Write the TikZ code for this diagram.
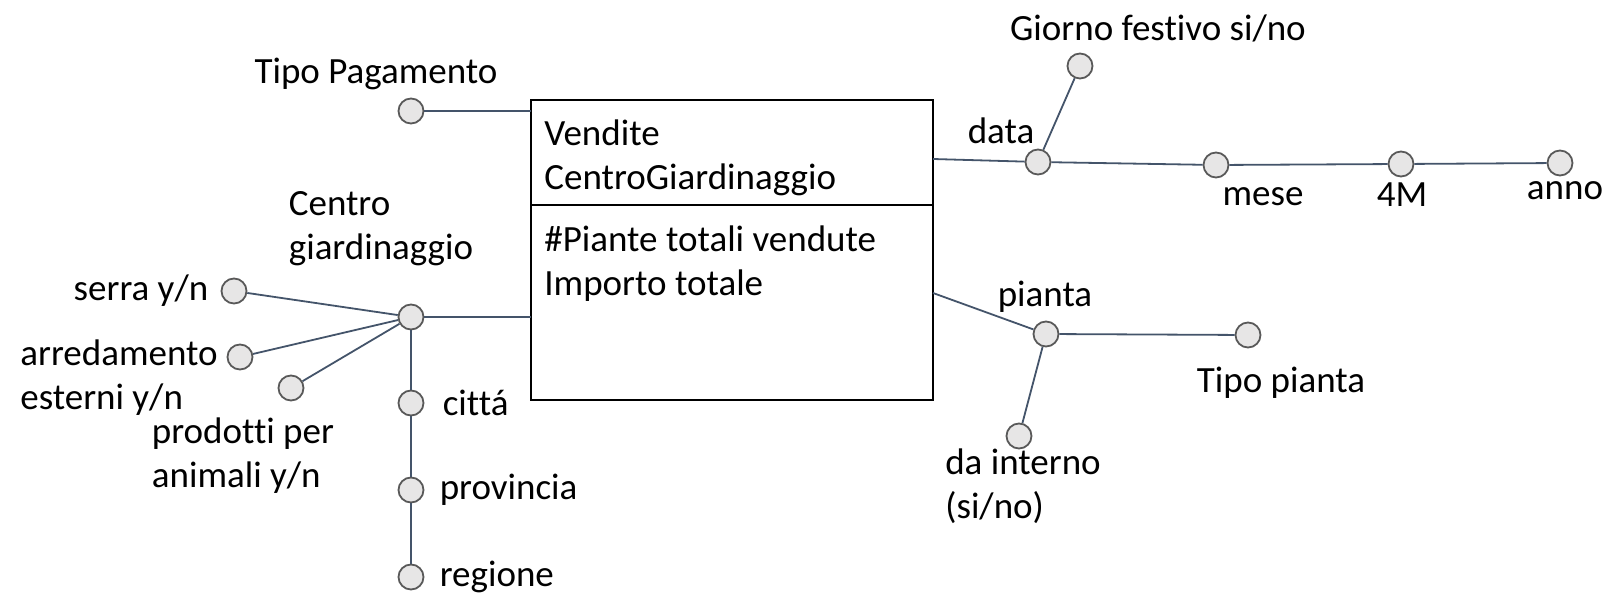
\documentclass[tikz,border=0pt]{standalone}
\usepackage{fontspec}
\setmainfont{Carlito}[Ligatures=NoCommon]
\usetikzlibrary{positioning}
\definecolor{slate}{HTML}{44546A}
\definecolor{dotfill}{HTML}{E7E6E6}
\definecolor{dotline}{HTML}{595959}

\begin{document}
\begin{tikzpicture}[x=0.5pt, y=-0.5pt]
  \tikzstyle{fact} = [rectangle, draw=black, line width=1.4pt, minimum width=201pt, inner sep=0pt, outer sep=0pt]
  \tikzstyle{attr} = [circle, draw=dotline, line width=0.9pt, fill=dotfill, minimum size=12.5pt, inner sep=0pt]
  \tikzstyle{lbl} = [inner sep=0pt, font=\fontsize{18.5}{22}\selectfont, align=left]
  \tikzstyle{edge} = [draw=slate, line width=0.9pt]
  \useasboundingbox (0,0) rectangle (1607,593);
  % Place nodes
  \node [fact, minimum height=52.5pt] (head) at (732,152.5) {};
  \node [fact, minimum height=97.5pt, below=0 of head] (body) {};
  \node [lbl, anchor=west] (name) at (544,158) {Vendite\\CentroGiardinaggio};
  \node [lbl, anchor=west] (measures) at (544,264) {\#Piante totali vendute\\Importo totale};

  \node [attr] (tipopag) at (411,111) {};
  \node [attr] (cg) at (411,317) {};
  \node [attr] (serra) at (234,291) {};
  \node [attr] (arred) at (240,357) {};
  \node [attr] (prodotti) at (291,388) {};
  \node [attr] (citta) at (411,403) {};
  \node [attr] (prov) at (411,490) {};
  \node [attr] (reg) at (411,577) {};

  \node [attr] (data) at (1038,162) {};
  \node [attr] (giorno) at (1080,66) {};
  \node [attr] (mese) at (1216,165) {};
  \node [attr] (quad) at (1401,164) {};
  \node [attr] (anno) at (1560,163) {};
  \node [attr] (pianta) at (1046,334) {};
  \node [attr] (tipopianta) at (1248,335) {};
  \node [attr] (interno) at (1019,436) {};

  \coordinate (dataport) at (933,159);
  \coordinate (piantaport) at (933,293);

  % Labels
  \node [lbl] at (376,74) {Tipo Pagamento};
  \node [lbl] at (381,229) {Centro\\giardinaggio};
  \node [lbl, left=6pt of serra] {serra y/n};
  \node [lbl] at (119,378) {arredamento\\esterni y/n};
  \node [lbl] at (243,456) {prodotti per\\animali y/n};
  \node [lbl, right=9pt of citta] {cittá};
  \node [lbl, right=7.5pt of prov] {provincia};
  \node [lbl, right=7.5pt of reg] {regione};
  \node [lbl] at (1001,131) {data};
  \node [lbl] at (1158,28) {Giorno festivo si/no};
  \node [lbl] at (1263,197) {mese};
  \node [lbl] at (1402,195) {4M};
  \node [lbl] at (1565,191) {anno};
  \node [lbl] at (1045,297) {pianta};
  \node [lbl] at (1281,383) {Tipo pianta};
  \node [lbl] at (1023,486) {da interno\\(si/no)};

  \path [edge] (tipopag) -- (tipopag -| head.west);
  \path [edge] (cg) -- (cg -| body.west);
  \path [edge] (cg) -- (serra);
  \path [edge] (cg) -- (arred);
  \path [edge] (cg) -- (prodotti);
  \path [edge] (cg) -- (citta);
  \path [edge] (citta) -- (prov);
  \path [edge] (prov) -- (reg);
  \path [edge] (dataport) -- (data);
  \path [edge] (data) -- (giorno);
  \path [edge] (data) -- (mese);
  \path [edge] (mese) -- (quad);
  \path [edge] (quad) -- (anno);
  \path [edge] (piantaport) -- (pianta);
  \path [edge] (pianta) -- (tipopianta);
  \path [edge] (pianta) -- (interno);
\end{tikzpicture}
\end{document}
